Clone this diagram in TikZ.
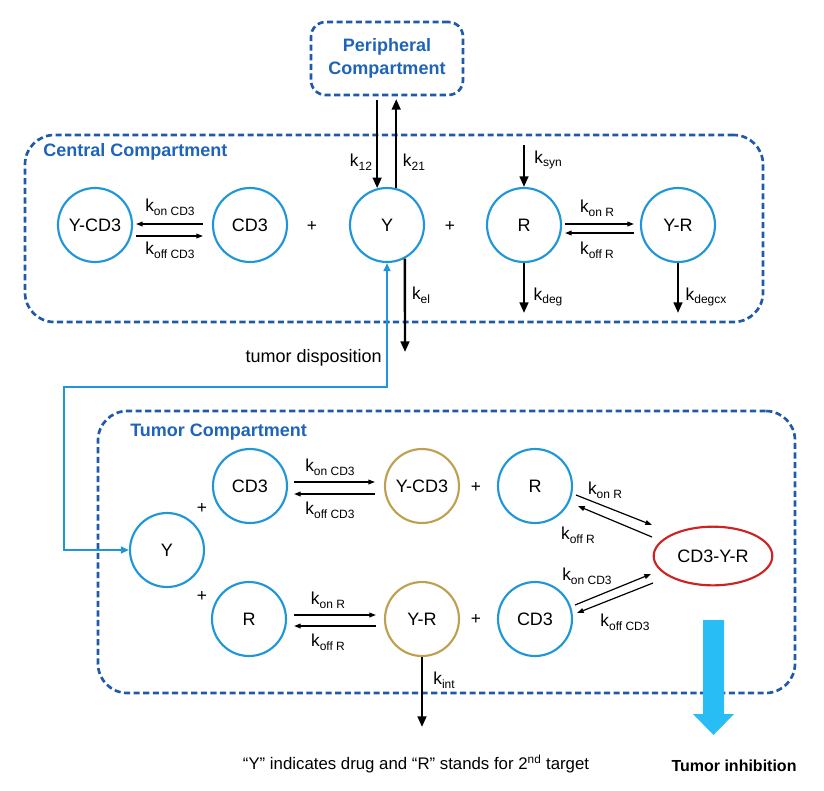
\documentclass[tikz,border=0pt]{standalone}
\usepackage{fontspec}
\setmainfont{Liberation Sans}
\usetikzlibrary{arrows.meta,shapes.geometric,calc}
\definecolor{boxblue}{RGB}{31,90,170}
\definecolor{titleblue}{RGB}{30,100,185}
\definecolor{circblue}{RGB}{30,150,215}
\definecolor{goldc}{RGB}{190,160,80}
\definecolor{redc}{RGB}{205,35,35}
\definecolor{bigblue}{RGB}{40,190,245}
\newcommand\kr[1]{k\raisebox{-0.4ex}{\fontsize{9}{10}\selectfont #1}}
\begin{document}
\begin{tikzpicture}[x=0.75pt,y=-0.75pt,
 comp/.style={draw=boxblue, line width=2pt, dash pattern=on 4.6pt off 2.6pt, rounded corners=22pt},
 species/.style={circle, draw=circblue, line width=1.6pt, minimum size=55.5pt, inner sep=0pt, font=\fontsize{13.5}{16}\selectfont},
 cplx/.style={species, draw=goldc},
 title/.style={font=\fontsize{13.5}{16}\selectfont\bfseries, text=titleblue, inner sep=0pt},
 rate/.style={font=\fontsize{13}{15}\selectfont, inner sep=0pt},
 flow/.style={draw=black, line width=1.8pt, -{Triangle[length=8pt,width=6.5pt]}},
 bind/.style={draw=black, line width=0.9pt, -{Triangle[length=5pt,width=3.6pt]}},
 plus/.style={font=\fontsize{13}{14}\selectfont, inner sep=0pt},
 disp/.style={draw=circblue, line width=1.8pt, {Triangle[length=6pt,width=5pt]}-{Triangle[length=6pt,width=5pt]}},
 txt/.style={font=\fontsize{12.6}{15}\selectfont, inner sep=0pt}
]
\useasboundingbox (0,0) rectangle (824,790);

% compartments
\node[comp, minimum width=553.5pt, minimum height=140.25pt] (central) at (394,228.5) {};
\node[comp, minimum width=522.75pt, minimum height=211.5pt] (tumor) at (446.5,552) {};
\node[comp, rounded corners=11pt, minimum width=114pt, minimum height=54.75pt, align=center,
      font=\fontsize{13.5}{17}\selectfont\bfseries, text=titleblue] (peri) at (387,58.5) {Peripheral\\Compartment};
\node[title, anchor=west] (ctitle) at (43,152) {Central Compartment};
\node[title, anchor=west] (ttitle) at (130,432) {Tumor Compartment};

% central species
\node[species] (YCD3c) at (95,225) {Y-CD3};
\node[species] (CD3c) at (250,225) {CD3};
\node[species] (Yc) at (387,225) {Y};
\node[species] (Rc) at (524,225) {R};
\node[species] (YRc) at (678,225) {Y-R};
\node[plus] (p1) at (312,226) {+};
\node[plus] (p2) at (450,226) {+};

% tumor species
\node[species] (Yt) at (167,550) {Y};
\node[species] (CD3t) at (250,486) {CD3};
\node[cplx] (YCD3t) at (422,486) {Y-CD3};
\node[species] (Rt) at (535,486) {R};
\node[species] (Rt2) at (249,619) {R};
\node[cplx] (YRt) at (422,619) {Y-R};
\node[species] (CD3t2) at (535,619) {CD3};
\node[ellipse, draw=redc, line width=1.6pt, minimum width=89pt, minimum height=44pt, inner sep=0pt,
      font=\fontsize{13.5}{16}\selectfont] (CYR) at (713,556) {CD3-Y-R};
\node[plus] (p3) at (202,508) {+};
\node[plus] (p4) at (202,596) {+};
\node[plus] (p5) at (476,487) {+};
\node[plus] (p6) at (476,619) {+};

% peripheral exchange
\draw[flow, shorten <=3pt] (peri.south -| Yc.105) -- (Yc.105);
\draw[flow, shorten >=2pt] (Yc.76) -- (peri.south -| Yc.76);
\node[rate] (k12) at (361,162) {\kr{12}};
\node[rate] (k21) at (414,162) {\kr{21}};

% central flows
\coordinate (synTop) at (524,145);
\coordinate (degEnd) at (524,313);
\coordinate (degcxEnd) at (678,313);
\coordinate (elEnd) at (405,352);
\draw[flow] (synTop) -- (Rc.north);
\draw[flow] (Rc.south) -- (degEnd);
\draw[flow] (YRc.south) -- (degcxEnd);
\draw[flow] (Yc.-62) -- (elEnd);
\node[rate] (ksyn) at (548,160) {\kr{syn}};
\node[rate] (kdeg) at (548,297) {\kr{deg}};
\node[rate] (kdegcx) at (706,297) {\kr{degcx}};
\node[rate] (kel) at (421,295) {\kr{el}};

% central binding
\draw[bind] ([shift={(-9,-1)}]CD3c.west) -- ([shift={(3,-1)}]YCD3c.east);
\draw[bind] ([shift={(3,11)}]YCD3c.east) -- ([shift={(-9,11)}]CD3c.west);
\node[rate] (konc) at (170,207) {\kr{on CD3}};
\node[rate] (koffc) at (170,250) {\kr{off CD3}};
\draw[bind] ([shift={(3,-1)}]Rc.east) -- ([shift={(-6,-1)}]YRc.west);
\draw[bind] ([shift={(-6,8)}]YRc.west) -- ([shift={(3,8)}]Rc.east);
\node[rate] (konrc) at (597,208) {\kr{on R}};
\node[rate] (koffrc) at (597,250) {\kr{off R}};

% tumor disposition
\coordinate (d1) at (64,387);
\draw[disp] (Yc.south) |- (d1) |- (Yt.west);
\node[txt, anchor=east, font=\fontsize{13.5}{15}\selectfont] (tdisp) at (382,358) {tumor disposition};

% tumor binding
\draw[bind] ([shift={(6,-4)}]CD3t.east) -- ([shift={(-9,-4)}]YCD3t.west);
\draw[bind] ([shift={(-9,8)}]YCD3t.west) -- ([shift={(6,8)}]CD3t.east);
\node[rate] (kont) at (330,467) {\kr{on CD3}};
\node[rate] (kofft) at (330,510) {\kr{off CD3}};
\draw[bind] ([shift={(7,-4)}]Rt2.east) -- ([shift={(-8,-4)}]YRt.west);
\draw[bind] ([shift={(-8,7)}]YRt.west) -- ([shift={(7,7)}]Rt2.east);
\node[rate] (konrt) at (328,600) {\kr{on R}};
\node[rate] (koffrt) at (328,642) {\kr{off R}};

% complex formation
\draw[bind] ([shift={(41,9)}]Rt.center) -- ([shift={(-61,-31)}]CYR.center);
\draw[bind] ([shift={(-61,-19)}]CYR.center) -- ([shift={(43,20)}]Rt.center);
\draw[bind] ([shift={(40,-14)}]CD3t2.center) -- ([shift={(-62,18)}]CYR.center);
\draw[bind] ([shift={(-60,27)}]CYR.center) -- ([shift={(42,-6)}]CD3t2.center);
\node[rate] (konr2) at (605,490) {\kr{on R}};
\node[rate] (koffr2) at (578,535) {\kr{off R}};
\node[rate] (kon3) at (587,576) {\kr{on CD3}};
\node[rate] (koff3) at (625,622) {\kr{off CD3}};

% internalisation
\coordinate (intEnd) at (422,727);
\draw[flow] (YRt.south) -- (intEnd);
\node[rate] (kint) at (444,680) {\kr{int}};

% tumor inhibition arrow
\fill[bigblue] (703,620) -- (724,620) -- (724,714) -- (734,714) -- (713.5,735) -- (693,714) -- (703,714) -- cycle;
\node[font=\fontsize{12}{14}\selectfont\bfseries, inner sep=0pt] (inhib) at (734,766) {Tumor inhibition};

% footnote
\node[txt] (note) at (416,764) {“Y” indicates drug and “R” stands for 2\textsuperscript{nd} target};
\end{tikzpicture}
\end{document}
